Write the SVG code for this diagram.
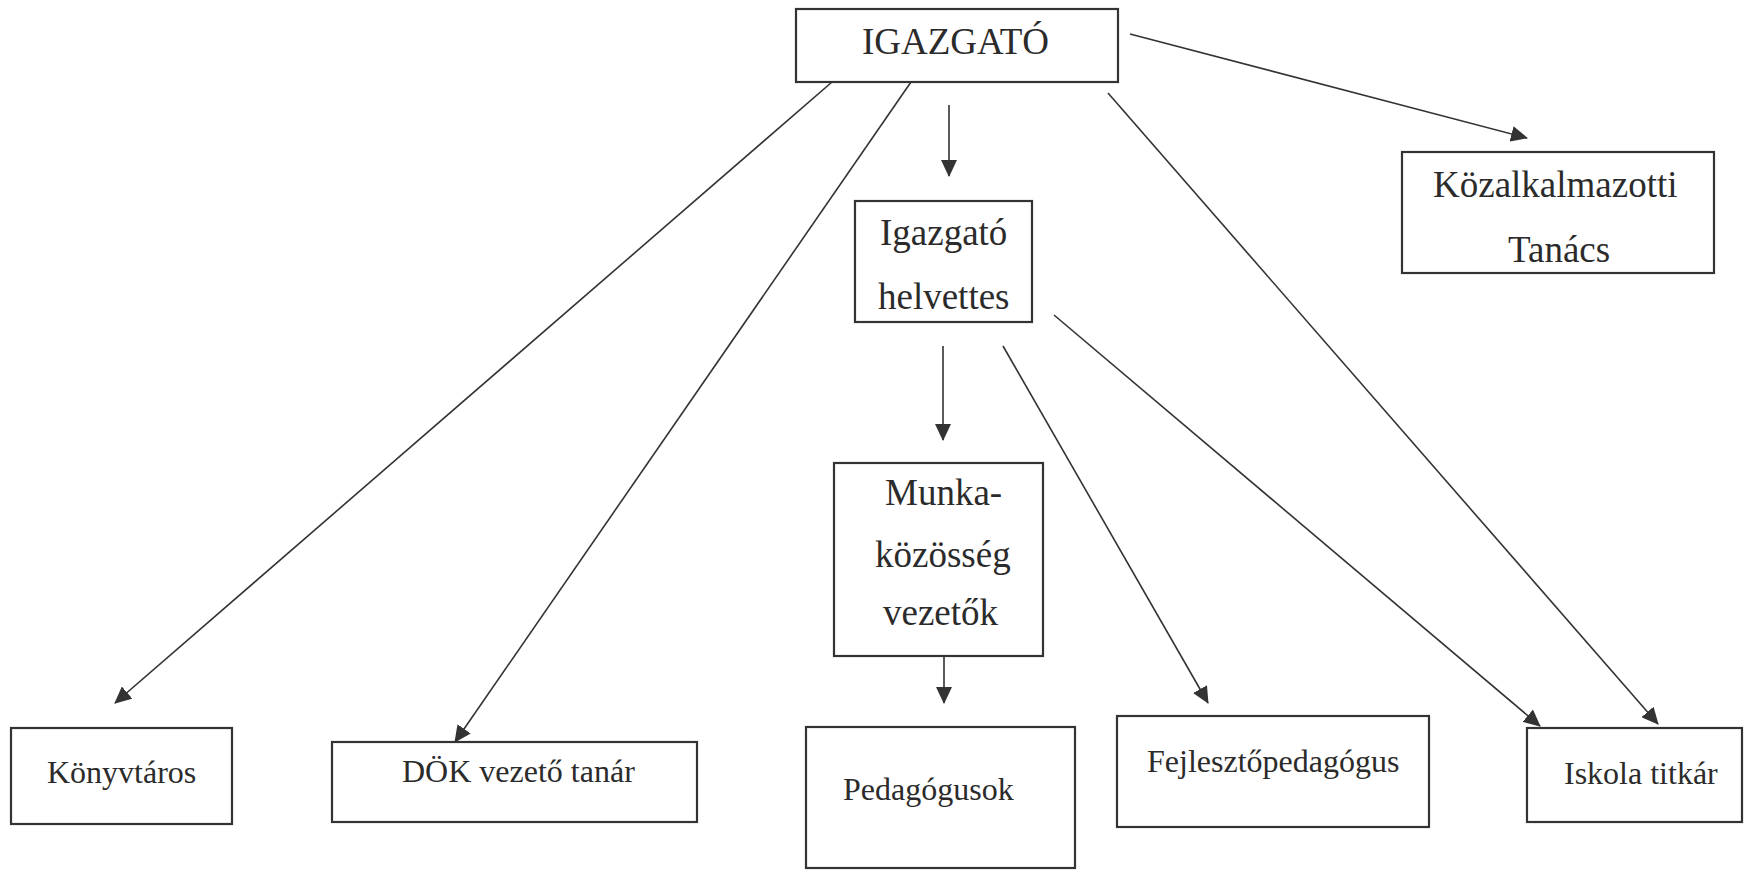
<svg xmlns="http://www.w3.org/2000/svg" width="1744" height="871" viewBox="0 0 1744 871">
<style>
.box{fill:#fff;stroke:#333;stroke-width:2.2}
.t{font-family:"Liberation Serif","Times New Roman",serif;fill:#2b2b2b}
.big{font-size:37px}
.sm{font-size:32px}
.c{fill:none;stroke:#333;stroke-width:1.6}
</style>
<defs>
<marker id="ah" markerUnits="userSpaceOnUse" markerWidth="18" markerHeight="16" viewBox="0 0 18 16" refX="16" refY="8" orient="auto">
<path d="M0,0 L17,8 L0,16 z" fill="#333"/>
</marker>
</defs>
<rect width="1744" height="871" fill="#fff"/>
<g id="connectors">
<line class="c" x1="832" y1="82" x2="115" y2="703" marker-end="url(#ah)"/>
<line class="c" x1="911" y1="82" x2="455" y2="742" marker-end="url(#ah)"/>
<line class="c" x1="949" y1="105" x2="949" y2="176" marker-end="url(#ah)"/>
<line class="c" x1="1130" y1="34" x2="1527" y2="138" marker-end="url(#ah)"/>
<line class="c" x1="1108" y1="93" x2="1658" y2="724" marker-end="url(#ah)"/>
<line class="c" x1="943" y1="346" x2="943" y2="440" marker-end="url(#ah)"/>
<line class="c" x1="1003" y1="346" x2="1208" y2="703" marker-end="url(#ah)"/>
<line class="c" x1="1054" y1="315" x2="1540" y2="726" marker-end="url(#ah)"/>
<line class="c" x1="944" y1="656" x2="944" y2="703" marker-end="url(#ah)"/>
</g>
<g id="igazgato">
<rect class="box" x="796" y="9" width="322" height="73"/>
<text class="t big" x="862" y="54">IGAZGATÓ</text>
</g>
<g id="helyettes">
<rect class="box" x="855" y="201" width="177" height="121"/>
<text class="t big" x="880" y="245">Igazgató</text>
<text class="t big" x="878" y="309">helvettes</text>
</g>
<g id="kozalkalmazotti">
<rect class="box" x="1402" y="152" width="312" height="121"/>
<text class="t big" x="1433" y="197">Közalkalmazotti</text>
<text class="t big" x="1508" y="262">Tanács</text>
</g>
<g id="munkakozosseg">
<rect class="box" x="834" y="463" width="209" height="193"/>
<text class="t big" x="885" y="505">Munka-</text>
<text class="t big" x="875" y="567">közösség</text>
<text class="t big" x="883" y="625">vezetők</text>
</g>
<g id="konyvtaros">
<rect class="box" x="11" y="728" width="221" height="96"/>
<text class="t sm" x="47" y="783">Könyvtáros</text>
</g>
<g id="dok">
<rect class="box" x="332" y="742" width="365" height="80"/>
<text class="t sm" x="402" y="782">DÖK vezető tanár</text>
</g>
<g id="pedagogusok">
<rect class="box" x="806" y="727" width="269" height="141"/>
<text class="t sm" x="843" y="800">Pedagógusok</text>
</g>
<g id="fejleszto">
<rect class="box" x="1117" y="716" width="312" height="111"/>
<text class="t sm" x="1147" y="772">Fejlesztőpedagógus</text>
</g>
<g id="iskolatitkar">
<rect class="box" x="1527" y="728" width="215" height="94"/>
<text class="t sm" x="1564" y="784">Iskola titkár</text>
</g>
</svg>
